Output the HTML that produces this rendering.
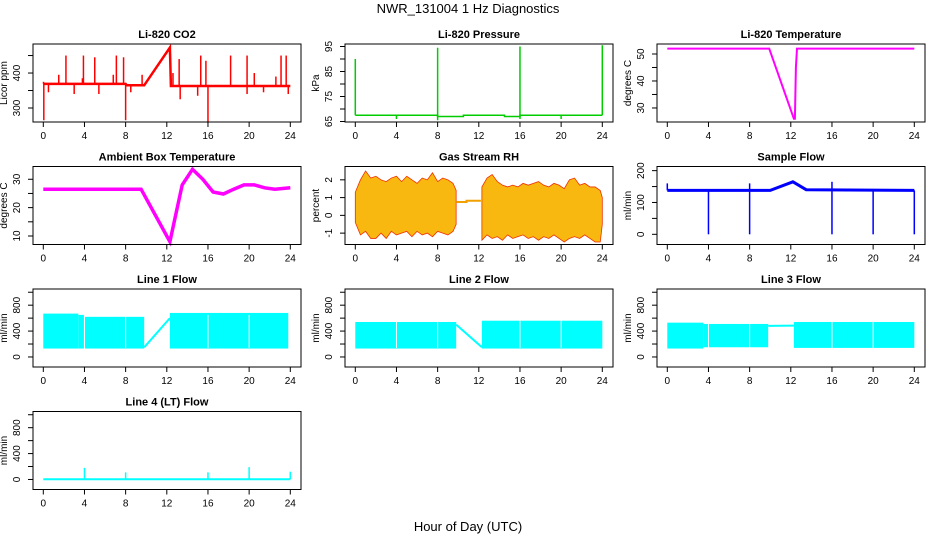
<!DOCTYPE html>
<html><head><meta charset="utf-8"><style>
body{margin:0;background:#fff}
svg{display:block;font-family:"Liberation Sans",sans-serif}
</style></head><body>
<svg id="c" width="936" height="540" xmlns="http://www.w3.org/2000/svg">
<text x="468" y="13" text-anchor="middle" font-size="13">NWR_131004  1 Hz Diagnostics</text>
<text x="468" y="531" text-anchor="middle" font-size="13">Hour of Day (UTC)</text>
</svg>
<script>
const xTicks=[0,4,8,12,16,20,24];
// CO2
const co2Line=[[0,369],[8,369],[8.1,365],[9.8,365],[12.3,473],[12.4,363],[24,363]];
const co2Spikes=[[2.2,450],[3.9,450],[5.0,445],[7.1,450],[7.8,445],[1.5,395],[3.8,385],[6.8,395],[9.6,395],[12.6,400],[13.2,440],[15.3,450],[15.8,435],[18.2,450],[19.8,450],[20.5,400],[22.6,390],[23.1,450],[23.6,450],[0.05,265],[8.0,265],[16.0,258],[23.8,340],[13.3,325],[3.0,340],[0.5,345],[5.4,340],[8.5,345],[15.0,335],[19.8,340],[21.4,345],[0.02,375]];
// Pressure
const presLine=[[0,67.5],[8,67.5],[8,67],[10.5,67],[10.5,67.5],[14.5,67.5],[14.5,67],[16,67],[16,67.5],[24,67.5]];
const presSpikes=[[0,90],[8,94.5],[16,95],[24,95.5],[4,66],[20,66],[8,65.5],[16,66]];
// Li-820 temperature
const tempLine=[[0,52],[9.9,52],[12.3,26],[12.4,26],[12.5,45],[12.6,52],[24,52]];
// Ambient
const ambLine=[[0,26.5],[9.5,26.5],[12.3,8],[13.5,28],[14.5,33.5],[15.5,30],[16.5,25.5],[17.5,24.8],[18.5,26.5],[19.5,28],[20.5,28],[21.5,27],[22.5,26.5],[24,27]];
// RH envelopes
const rhHours=[0,0.5,1,1.5,2,2.5,3,3.5,4,4.5,5,5.5,6,6.5,7,7.5,8,8.5,9,9.5,9.8];
const rhTop=[1.3,2.0,2.5,2.1,2.2,2.0,1.9,2.1,2.2,1.9,2.2,2.0,1.8,2.1,2.0,2.4,1.9,2.1,2.0,1.8,1.4];
const rhBot=[-0.4,-1.1,-0.9,-1.3,-1.3,-1.0,-1.3,-0.9,-1.1,-1.0,-0.9,-1.2,-0.9,-1.1,-1.0,-1.2,-0.9,-1.0,-1.1,-0.9,-0.5];
const rhHours2=[12.3,12.8,13.3,13.8,14.3,14.8,15.3,15.8,16.3,16.8,17.3,17.8,18.3,18.8,19.3,19.8,20.3,20.8,21.3,21.8,22.3,22.8,23.3,23.8,24];
const rhTop2=[1.6,2.1,2.3,1.9,1.7,1.6,1.7,1.6,1.8,1.7,1.8,1.9,1.7,1.6,1.8,1.7,1.5,2.0,2.1,1.7,1.8,1.6,1.6,1.4,1.0];
const rhBot2=[-1.4,-1.1,-1.3,-1.2,-1.4,-1.1,-1.3,-1.2,-1.1,-1.3,-1.2,-1.4,-1.2,-1.3,-1.1,-1.3,-1.5,-1.3,-1.2,-1.3,-1.1,-1.3,-1.5,-1.5,-0.5];
const rhGap=[[9.8,0.75],[10.8,0.75],[10.8,0.82],[12.2,0.82]];
// Sample flow
const sfLine=[[0,138],[10,138],[12.2,165],[13.5,140],[24,138]];
const sfSpikes=[[4,0],[8,0],[16,0],[20,0],[24,0],[0,160],[8,160],[16,165]];
// Line flows bands [start,end,low,high]
const l1Bands=[[0,3.4,130,670],[3.4,3.95,130,650],[4.05,9.8,130,620],[12.3,23.8,130,680]];
const l1Ramp=[[9.8,150],[12.3,600]];
const l2Bands=[[0,9.8,130,540],[12.3,24,130,560]];
const l2Ramp=[[9.8,500],[12.3,150]];
const l3Bands=[[0,3.5,130,530],[3.5,9.8,150,510],[12.3,24,140,540]];
const l3Ramp=[[9.8,480],[12.3,485]];
const flowGaps=[4,8,16,20];
const l4Line=[[0,2],[24,2]];
const l4Spikes=[[4,180],[8,110],[16,110],[20,190],[24,120]];

const svg=document.getElementById('c');
const NS='http://www.w3.org/2000/svg';
function mk(tag,attrs,parent){const e=document.createElementNS(NS,tag);for(const k in attrs)e.setAttribute(k,attrs[k]);(parent||svg).appendChild(e);return e;}

function panel(col,row,title,ylab,ymin,ymax,ticks,labels,name){
  const x0=33+col*312,w=268,top=44+row*122.5,h=78;
  const g=mk('g',{});
  
  
  const X=v=>x0+10.3+v/24*247;
  const Y=v=>top+(ymax-v)/(ymax-ymin)*h;
  const P={g,X,Y,top,h,x0,w};
  P.finish=function(){
    const b=mk('rect',{x:x0,y:top,width:w,height:h,fill:'none',stroke:'#000','stroke-width':1},g);
    
    
    const t=mk('text',{x:x0+w/2,y:top-6,'text-anchor':'middle','font-size':11,'font-weight':'bold'},g);t.textContent=title;
    
    
    const yb=top+h;
    mk('line',{x1:X(0),x2:X(24),y1:yb,y2:yb,stroke:'#000'},g);
    xTicks.forEach(v=>{mk('line',{x1:X(v),x2:X(v),y1:yb,y2:yb+5,stroke:'#000'},g);
      const tx=mk('text',{x:X(v),y:yb+17,'text-anchor':'middle','font-size':10},g);tx.textContent=v;
      
      });
    mk('line',{x1:x0,x2:x0,y1:Y(ticks[0]),y2:Y(ticks[ticks.length-1]),stroke:'#000'},g);
    ticks.forEach(v=>mk('line',{x1:x0-5,x2:x0,y1:Y(v),y2:Y(v),stroke:'#000'},g));
    labels.forEach(v=>{const tx=mk('text',{x:x0-13,y:Y(v),'text-anchor':'middle','font-size':10,transform:`rotate(-90 ${x0-13} ${Y(v)})`},g);tx.textContent=v;
      
      });
    const yl=mk('text',{x:x0-26,y:top+h/2,'text-anchor':'middle','font-size':10,transform:`rotate(-90 ${x0-26} ${top+h/2})`},g);yl.textContent=ylab;
    
    
  };
  return P;
}
function line(P,pts,color,sw,nm){const d=pts.map((p,i)=>(i?'L':'M')+P.X(p[0]).toFixed(1)+' '+P.Y(p[1]).toFixed(1)).join(' ');
  const e=mk('path',{d,fill:'none',stroke:color,'stroke-width':sw},P.g);
  
  }
function spikes(P,arr,base,color,sw){arr.forEach(s=>{const e=mk('line',{x1:P.X(s[0]),x2:P.X(s[0]),y1:P.Y(base(s[0])),y2:P.Y(s[1]),stroke:color,'stroke-width':sw},P.g);
  
  });}
function interp(pts,x){for(let i=1;i<pts.length;i++){if(x<=pts[i][0]){const a=pts[i-1],b=pts[i];const t=b[0]===a[0]?0:(x-a[0])/(b[0]-a[0]);return a[1]+t*(b[1]-a[1]);}}return pts[pts.length-1][1];}
function bands(P,arr,color){arr.forEach(b=>{const e=mk('rect',{x:P.X(b[0]),y:P.Y(b[3]),width:P.X(b[1])-P.X(b[0]),height:P.Y(b[2])-P.Y(b[3]),fill:color},P.g);
  
  });}
function envelope(P,hrs,tp,bt,color){const pts=hrs.map((h,i)=>P.X(h)+','+P.Y(tp[i])).concat(hrs.map((h,i)=>P.X(h)+','+P.Y(bt[i])).reverse());
  const e=mk('polygon',{points:pts.join(' '),fill:color,stroke:'#f03000','stroke-width':0.8},P.g);
  
  }

let P=panel(0,0,'Li-820 CO2','Licor ppm',260,483,[300,350,400,450],[300,400],'co2');
line(P,co2Line,'#f00',2.5,'co2-line');spikes(P,co2Spikes,x=>interp(co2Line,x),'#f00',1.5);P.finish();
P=panel(1,0,'Li-820 Pressure','kPa',64.8,96,[65,70,75,80,85,90,95],[65,75,85,95],'pressure');
line(P,presLine,'#0c0',1.5,'pressure-line');spikes(P,presSpikes,()=>67.5,'#0c0',1.5);P.finish();
P=panel(2,0,'Li-820 Temperature','degrees C',24.8,53.7,[30,35,40,45,50],[30,40,50],'licor-temp');
line(P,tempLine,'#f0f',2,'licor-temp-line');P.finish();
P=panel(0,1,'Ambient Box Temperature','degrees C',7,34.5,[10,15,20,25,30],[10,20,30],'ambient-temp');
line(P,ambLine,'#f0f',3.5,'ambient-temp-line');P.finish();
P=panel(1,1,'Gas Stream RH','percent',-1.64,2.75,[-1,0,1,2],[-1,0,1,2],'rh');
envelope(P,rhHours,rhTop,rhBot,'#f8b810');envelope(P,rhHours2,rhTop2,rhBot2,'#f8b810');line(P,rhGap,'#f0a000',2,'rh-gap-line');P.finish();
P=panel(2,1,'Sample Flow','ml/min',-32,213,[0,50,100,150,200],[0,100,200],'sample-flow');
line(P,sfLine,'#00f',3,'sample-flow-line');spikes(P,sfSpikes,x=>interp(sfLine,x),'#00f',1.5);P.finish();
function flowPanel(col,row,title,bnds,ramp,name){
  const P=panel(col,row,title,'ml/min',-155,1050,[0,200,400,600,800,1000],[0,400,800],name);
  bands(P,bnds,'#0ff');
  flowGaps.forEach(g=>{const e=mk('line',{x1:P.X(g),x2:P.X(g),y1:P.Y(650),y2:P.Y(140),stroke:'#fff','stroke-width':1},P.g);
    
    });
  line(P,ramp,'#0ff',2,name+'-ramp');P.finish();
}
flowPanel(0,2,'Line 1 Flow',l1Bands,l1Ramp,'line1-flow');
flowPanel(1,2,'Line 2 Flow',l2Bands,l2Ramp,'line2-flow');
flowPanel(2,2,'Line 3 Flow',l3Bands,l3Ramp,'line3-flow');
P=panel(0,3,'Line 4 (LT) Flow','ml/min',-155,1050,[0,200,400,600,800,1000],[0,400,800],'line4-flow');
line(P,l4Line,'#0ff',2,'line4-flow-line');spikes(P,l4Spikes,()=>2,'#0ff',1.5);P.finish();
</script>
</body></html>
